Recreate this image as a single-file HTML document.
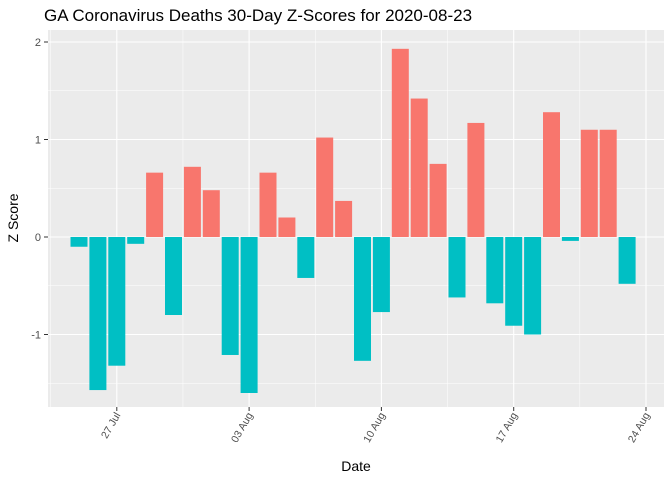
<!DOCTYPE html>
<html><head><meta charset="utf-8"><style>
body{margin:0;background:#fff;font-family:"Liberation Sans",sans-serif}
</style></head><body>
<svg width="672" height="480">
<text x="44" y="21" font-size="17" fill="#000">GA Coronavirus Deaths 30-Day Z-Scores for 2020-08-23</text>
<rect x="48" y="30" width="616" height="377" fill="#EBEBEB"/>
<g id="grid"></g><g id="bars"></g><g id="axes"></g>
<text x="356" y="471" font-size="14" text-anchor="middle">Date</text>
<text transform="translate(18,218) rotate(-90)" font-size="14" text-anchor="middle">Z Score</text>
</svg>
<script>
const dates=["25 Jul","26 Jul","27 Jul","28 Jul","29 Jul","30 Jul","31 Jul","01 Aug","02 Aug","03 Aug","04 Aug","05 Aug","06 Aug","07 Aug","08 Aug","09 Aug","10 Aug","11 Aug","12 Aug","13 Aug","14 Aug","15 Aug","16 Aug","17 Aug","18 Aug","19 Aug","20 Aug","21 Aug","22 Aug","23 Aug"];
const zscores=[-0.1,-1.57,-1.32,-0.07,0.66,-0.8,0.72,0.48,-1.21,-1.6,0.66,0.2,-0.42,1.02,0.37,-1.27,-0.77,1.93,1.42,0.75,-0.62,1.17,-0.68,-0.91,-1.0,1.28,-0.04,1.1,1.1,-0.48];
const xTickLabels=["27 Jul","03 Aug","10 Aug","17 Aug","24 Aug"];
const xTickIdx=[2,9,16,23,30];
const yTicks=[-1,0,1,2];
const NS="http://www.w3.org/2000/svg";
const x=d=>79+d*18.9;
const y=v=>237-v*97.5;
function mk(parent,tag,attrs){const e=document.createElementNS(NS,tag);for(const k in attrs)e.setAttribute(k,attrs[k]);document.getElementById(parent).appendChild(e);return e;}
// minor grid
for(let i=0;i<xTickIdx.length+1;i++){const d=xTickIdx[0]-3.5+i*7;const px=x(d);if(px>48&&px<664){const l=mk('grid','line',{x1:px,x2:px,y1:30,y2:407,stroke:'#fff','stroke-width':0.5});}}
for(let v=-1.5;v<=2;v+=1){const l=mk('grid','line',{x1:48,x2:664,y1:y(v),y2:y(v),stroke:'#fff','stroke-width':0.5});}
xTickIdx.forEach((d,i)=>{const px=x(d);
const l=mk('grid','line',{x1:px,x2:px,y1:30,y2:407,stroke:'#fff','stroke-width':1.1});
const t=mk('axes','line',{x1:px,x2:px,y1:407,y2:411,stroke:'#333'});
const tx=mk('axes','text',{transform:`translate(${px+4},${415}) rotate(-60)`,'font-size':10.5,'text-anchor':'end',fill:'#4D4D4D'});tx.textContent=xTickLabels[i];});
yTicks.forEach(v=>{const py=y(v);
const l=mk('grid','line',{x1:48,x2:664,y1:py,y2:py,stroke:'#fff','stroke-width':1.1});
const t=mk('axes','line',{x1:44,x2:48,y1:py,y2:py,stroke:'#333'});
const tx=mk('axes','text',{x:41,y:py+4,'font-size':11,'text-anchor':'end',fill:'#4D4D4D'});tx.textContent=v;});
zscores.forEach((v,i)=>{const w=17;const top=Math.min(y(v),y(0));
const r=mk('bars','rect',{x:x(i)-w/2,y:top,width:w,height:Math.abs(y(v)-y(0)),fill:v>0?'#F8766D':'#00BFC4'});

});
</script>
</body></html>
